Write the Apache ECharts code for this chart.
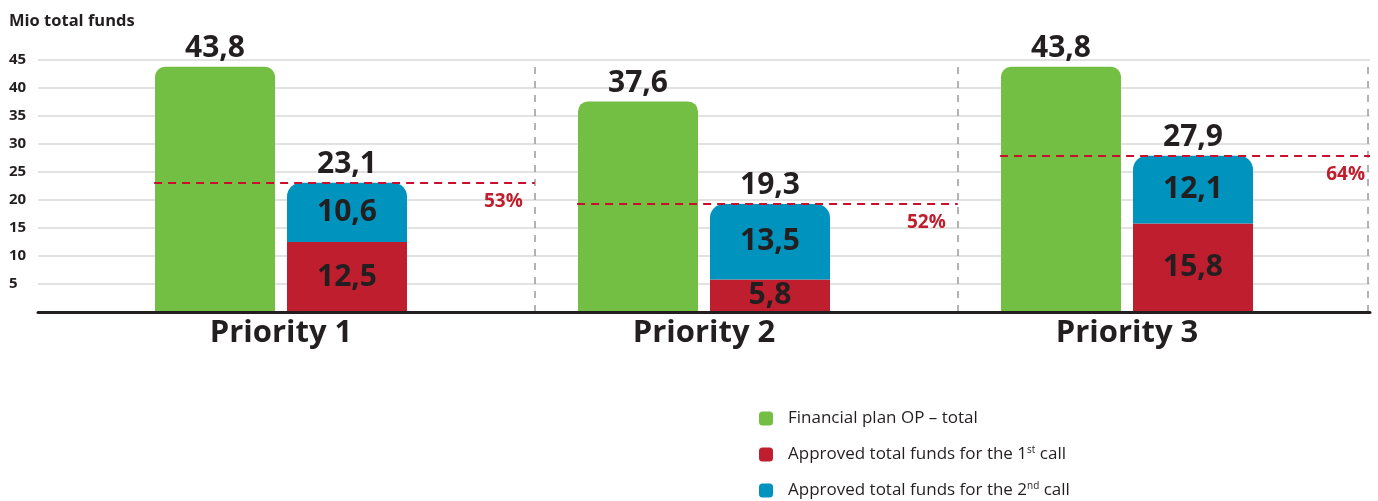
<!DOCTYPE html>
<html>
<head>
<meta charset="utf-8">
<title>Priority funds</title>
<script src="https://cdn.jsdelivr.net/npm/echarts@6/dist/echarts.min.js"></script>
<style>
html, body { margin: 0; padding: 0; background: #fff; }
#main { width: 1378px; height: 501px; }
</style>
</head>
<body>
<div id="main"></div>
<script>
"use strict";
// data
var categories = ['Priority 1', 'Priority 2', 'Priority 3'];
var planTotal = [43.8, 37.6, 43.8];
var firstCall = [12.5, 5.8, 15.8];
var secondCall = [10.6, 13.5, 12.1];
var approvedTotal = [23.1, 19.3, 27.9];
var shareLabels = ['53%', '52%', '64%'];

var seriesNames = ['Financial plan OP – total', 'Approved total funds for the 1st call', 'Approved total funds for the 2nd call'];

var TXT = '#231f20';
var GREEN = '#72bf44', RED = '#be1e2d', BLUE = '#0093bd';
var FONT = '"Open Sans", sans-serif';

// background grid uses a value x axis where category i sits on x = i + 1
var X_MIN = 0.4255, X_MAX = 3.5745;
function pos(i) { return i + 1; }
function fmt(v) { return String(v).replace('.', ','); }

var valueLabel = {
	show: true,
	fontFamily: FONT,
	fontWeight: 'bold',
	fontSize: 30,
	color: TXT,
	formatter: function (p) { return fmt(p.value); }
};

// dashed red line at the approved total + share label
// (markers outside the axis range get dropped, so keep the end inside)
var shareLines = approvedTotal.map(function (v, i) {
	var end = Math.min(pos(i) + 0.6, X_MAX);
	return [
		{ coord: [pos(i) - 0.3, v] },
		{ coord: [end, v], label: { formatter: shareLabels[i], distance: end < pos(i) + 0.6 ? [5, 9] : [12, 9] } }
	];
});
// grey vertical dividers after each priority
var dividers = categories.map(function (c, i) { return { xAxis: Math.min(pos(i) + 0.6, 3.57) }; });

var myChart = echarts.init(document.getElementById('main'));
var option = {
	animation: false,
	title: {
		text: 'Mio total funds',
		left: 9, top: 13, padding: 0,
		textStyle: { fontFamily: FONT, fontWeight: 'bold', fontSize: 16.5, color: TXT }
	},
	legend: {
		orient: 'vertical',
		left: 759, top: 409, padding: 0,
		itemWidth: 14, itemHeight: 14, itemGap: 17,
		icon: 'roundRect',
		data: seriesNames,
		formatter: function (name) {
			return name.replace('1st', '1{sup|st}').replace('2nd', '2{sup|nd}');
		},
		textStyle: {
			fontFamily: FONT, fontSize: 17, color: TXT, lineHeight: 19,
			padding: [0, 0, 0, 10],
			rich: {
				sup: { fontFamily: FONT, fontSize: 10, color: TXT, verticalAlign: 'top', lineHeight: 19, padding: [0, 0, 8, 0] }
			}
		}
	},
	grid: [
		// background: gridlines, y labels, base line, dividers
		{ left: 38, right: 8, top: 60, bottom: 189 },
		// bars: band of 423px per priority
		{ left: 69.5, right: 39.5, top: 60, bottom: 189 }
	],
	xAxis: [
		{
			gridIndex: 0,
			type: 'value',
			min: X_MIN, max: X_MAX,
			z: 5,
			axisLine: { show: true, lineStyle: { color: '#231f20', width: 3 } },
			axisTick: { show: false },
			splitLine: { show: false },
			axisLabel: { show: false }
		},
		{
			gridIndex: 1,
			type: 'category',
			data: categories,
			axisLine: { show: false },
			axisTick: { show: false },
			axisLabel: {
				fontFamily: FONT, fontWeight: 'bold', fontSize: 31, color: TXT,
				margin: 6
			}
		}
	],
	yAxis: [
		{
			gridIndex: 0,
			type: 'value',
			min: 0, max: 45, interval: 5,
			axisLine: { show: false },
			axisTick: { show: false },
			splitLine: { lineStyle: { color: '#d9d9d9', width: 1.5 } },
			axisLabel: {
				align: 'left', margin: 29,
				fontFamily: FONT, fontWeight: 'bold', fontSize: 15, color: TXT,
				formatter: function (v) { return v === 0 ? '' : v; }
			}
		},
		{
			gridIndex: 1,
			type: 'value',
			min: 0, max: 45, interval: 5,
			show: false
		}
	],
	series: [
		{
			name: seriesNames[0],
			type: 'bar',
			xAxisIndex: 1, yAxisIndex: 1,
			barWidth: 120,
			barGap: '10%',
			itemStyle: { color: GREEN, borderRadius: [10, 10, 0, 0] },
			label: Object.assign({}, valueLabel, { position: 'top', distance: 3 }),
			data: planTotal
		},
		{
			name: seriesNames[1],
			type: 'bar',
			xAxisIndex: 1, yAxisIndex: 1,
			stack: 'approved',
			barWidth: 120,
			itemStyle: { color: RED },
			label: Object.assign({}, valueLabel, { position: 'inside' }),
			data: firstCall
		},
		{
			name: seriesNames[2],
			type: 'bar',
			xAxisIndex: 1, yAxisIndex: 1,
			stack: 'approved',
			barWidth: 120,
			itemStyle: { color: BLUE, borderRadius: [14, 14, 0, 0] },
			label: Object.assign({}, valueLabel, { position: 'inside' }),
			data: secondCall
		},
		{
			// zero height bar only to put the total on top of the stack
			name: 'Approved total',
			type: 'bar',
			xAxisIndex: 1, yAxisIndex: 1,
			stack: 'approved',
			barWidth: 120,
			itemStyle: { color: 'transparent' },
			label: Object.assign({}, valueLabel, {
				position: 'top', distance: 3,
				formatter: function (p) { return fmt(approvedTotal[p.dataIndex]); }
			}),
			data: categories.map(function () { return 0; })
		},
		{
			// holder for the dividers
			name: 'guides',
			type: 'line',
			xAxisIndex: 0, yAxisIndex: 0,
			clip: false,
			silent: true,
			data: [],
			markLine: {
				silent: true,
				symbol: 'none',
				z: 1,
				label: { show: false },
				lineStyle: { color: '#9a9a9a', type: [7, 7], width: 1.5 },
				data: dividers
			}
		},
		{
			// dashed share lines
			name: 'shares',
			type: 'line',
			xAxisIndex: 0, yAxisIndex: 0,
			clip: false,
			silent: true,
			z: 10,
			data: [],
			markLine: {
				silent: true,
				symbol: 'none',
				z: 10,
				lineStyle: { color: '#c8102e', type: [8, 6], width: 2 },
				label: {
					show: true,
					position: 'insideEndBottom',
					distance: [12, 9],
					fontFamily: FONT, fontWeight: 'bold', fontSize: 19, color: RED
				},
				data: shareLines
			}
		}
	]
};
myChart.setOption(option);
</script>
</body>
</html>
